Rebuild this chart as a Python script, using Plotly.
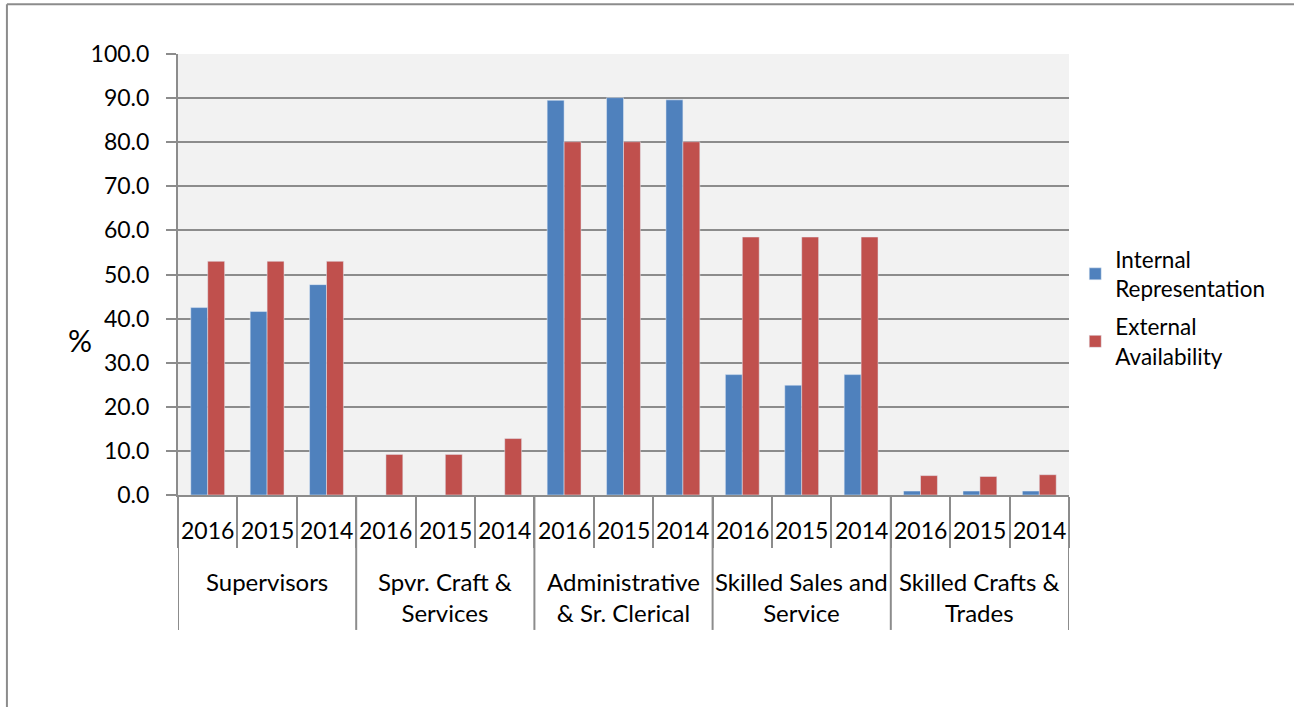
import plotly.graph_objects as go

groups = ["Supervisors", "Spvr. Craft &<br>Services", "Administrative<br>& Sr. Clerical",
          "Skilled Sales and<br>Service", "Skilled Crafts &<br>Trades"]
years = ["2016", "2015", "2014"]

internal = [42.5, 41.6, 47.7,
            0.0, 0.0, 0.0,
            89.5, 90.1, 89.6,
            27.3, 24.9, 27.3,
            0.9, 0.9, 0.9]
external = [53.0, 53.0, 53.0,
            9.2, 9.2, 12.8,
            80.1, 80.1, 80.1,
            58.5, 58.5, 58.5,
            4.4, 4.2, 4.6]

FONT = "Lato"
GRAY = "#8c8c8c"

n = len(groups) * len(years)
xpos = list(range(n))
year_labels = [years[i % len(years)] for i in range(n)]

fig = go.Figure()
fig.add_trace(go.Bar(x=xpos, y=internal, name="Internal<br>Representation",
                     legendgroup="int", marker=dict(color="#4f81bd")))
fig.add_trace(go.Bar(x=xpos, y=external, name="External<br>Availability",
                     legendgroup="ext", marker=dict(color="#c0504d")))

# year labels under each bar pair
for x, lab in zip(xpos, year_labels):
    fig.add_annotation(x=x, y=-0.079, xref="x", yref="paper", text=lab, showarrow=False,
                       yanchor="middle", font=dict(family=FONT, size=23, color="black"))

# group labels and dividers
for g, name in enumerate(groups):
    center = g * len(years) + (len(years) - 1) / 2
    fig.add_annotation(x=center, y=-0.158, xref="x", yref="paper", text=name, showarrow=False,
                       yanchor="top", font=dict(family=FONT, size=24, color="black"))
for g in range(len(groups) + 1):
    b = g * len(years) - 0.5
    fig.add_shape(type="line", xref="x", yref="paper", x0=b, x1=b, y0=0, y1=-0.306,
                  line=dict(color=GRAY, width=2))

# "%" axis label
fig.add_annotation(x=-0.11, y=0.351, xref="paper", yref="paper", text="%", showarrow=False,
                   xanchor="center", yanchor="middle",
                   font=dict(family=FONT, size=30, color="black"))

# outer frame of the chart area
fig.add_shape(type="line", xref="paper", yref="paper", x0=-0.192, x1=-0.192, y0=-0.6, y1=1.113,
              line=dict(color=GRAY, width=2))
fig.add_shape(type="line", xref="paper", yref="paper", x0=-0.192, x1=1.3, y0=1.113, y1=1.113,
              line=dict(color=GRAY, width=2))

fig.update_layout(
    width=1294, height=707,
    margin=dict(l=178, r=225, t=54, b=212),
    paper_bgcolor="white", plot_bgcolor="#f2f2f2",
    barmode="group", bargap=0.43, bargroupgap=0,
    font=dict(family=FONT, size=23, color="black"),
    legend=dict(x=1.007, y=0.425, xanchor="left", yanchor="middle",
                font=dict(family=FONT, size=22.5, color="black"),
                tracegroupgap=6, itemwidth=30),
)
fig.update_xaxes(range=[-0.5, n - 0.5], tickmode="array",
                 tickvals=[i - 0.5 for i in range(n + 1)], showticklabels=False,
                 ticks="outside", ticklen=51, tickwidth=2, tickcolor=GRAY,
                 showgrid=False, zeroline=False, showline=True, linecolor=GRAY, linewidth=2)
fig.update_yaxes(range=[0, 100], dtick=10, tickformat=".1f",
                 ticks="outside", ticklen=10, tickwidth=2, tickcolor=GRAY, ticklabelstandoff=12,
                 showgrid=True, gridcolor=GRAY, gridwidth=2,
                 zeroline=False, showline=True, linecolor=GRAY, linewidth=2,
                 tickfont=dict(family=FONT, size=23, color="black"))

# drop the default 8px body margin so the figure starts at the page corner
fig.write_html("out.html", config={"displayModeBar": False},
               post_script="document.body.style.margin='0';")
